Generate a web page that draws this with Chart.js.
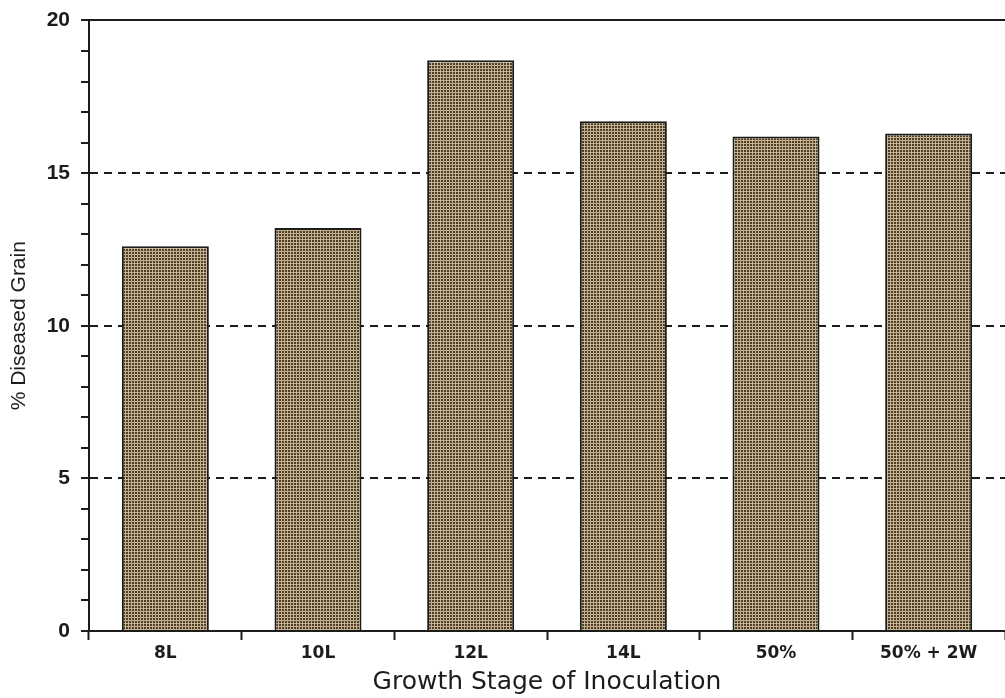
<!DOCTYPE html>
<html>
<head>
<meta charset="utf-8">
<script src="https://cdn.jsdelivr.net/npm/chart.js@4/dist/chart.umd.min.js"></script>
<style>
  body { margin: 0; background: #fff; }
  canvas { display: block; }
</style>
</head>
<body>
<canvas id="chart" width="1005" height="698"></canvas>
<script>
// data
const categories = ['8L', '10L', '12L', '14L', '50%', '50% + 2W'];
const diseasedGrain = [12.6, 13.2, 18.7, 16.7, 16.2, 16.3];
const yLabelTicks = [0, 5, 10, 15, 20];

// small olive-brown crosshatch like the printed bars
function makeHatch() {
    const c = document.createElement('canvas');
    c.width = 3; c.height = 3;
    const g = c.getContext('2d');
    g.fillStyle = '#c2b293';
    g.fillRect(0, 0, 3, 3);
    g.fillStyle = '#513f24';
    g.fillRect(0, 0, 2, 2);
    return g.createPattern(c, 'repeat');
}

const ink = '#1c1c1c';
const ctx = document.getElementById('chart').getContext('2d');

new Chart(ctx, {
    type: 'bar',
    data: {
        labels: categories,
        datasets: [{
            data: diseasedGrain,
            backgroundColor: makeHatch(),
            borderColor: ink,
            borderWidth: 2,
            barPercentage: 0.57,
            categoryPercentage: 1.0
        }]
    },
    options: {
        responsive: false,
        animation: false,
        layout: { padding: 0 },
        plugins: {
            legend: { display: false },
            tooltip: { enabled: false }
        },
        scales: {
            x: {
                offset: true,
                grid: {
                    offset: true,
                    drawOnChartArea: false,
                    tickLength: 9,
                    tickColor: ink,
                    tickWidth: 2
                },
                border: { display: true, color: ink, width: 2 },
                ticks: {
                    color: ink,
                    padding: 3,
                    font: { family: 'DejaVu Sans', size: 17, weight: 'bold' }
                },
                title: {
                    display: true,
                    text: 'Growth Stage of Inoculation',
                    color: ink,
                    padding: { top: 0, bottom: 2 },
                    font: { family: 'DejaVu Sans', size: 25, lineHeight: 1.1 }
                },
                afterFit: (s) => { s.height = 67; }
            },
            top: {
                type: 'category',
                position: 'top',
                grid: { display: false },
                ticks: { display: false },
                border: { display: true, color: ink, width: 2 },
                afterFit: (s) => { s.height = 20; }
            },
            y: {
                min: 0,
                max: 20,
                border: { display: true, color: ink, width: 2, dash: [8, 6] },
                grid: {
                    color: (c) => {
                        const v = c.tick ? c.tick.value : 0;
                        return (v % 5 === 0 && v !== 0 && v !== 20) ? ink : 'rgba(0,0,0,0)';
                    },
                    lineWidth: 2,
                    tickLength: 8,
                    tickColor: ink,
                    tickWidth: 2
                },
                ticks: {
                    stepSize: 1,
                    autoSkip: false,
                    color: ink,
                    padding: 11,
                    font: { family: 'Liberation Sans', size: 21, weight: 'bold', lineHeight: 0.9 },
                    callback: (v) => yLabelTicks.includes(v) ? String(v) : ''
                },
                title: {
                    display: true,
                    text: '% Diseased Grain',
                    color: ink,
                    padding: { top: 7, bottom: 0 },
                    font: { family: 'Liberation Sans', size: 21 }
                },
                afterFit: (s) => { s.width = 89; }
            }
        }
    }
});
</script>
</body>
</html>
